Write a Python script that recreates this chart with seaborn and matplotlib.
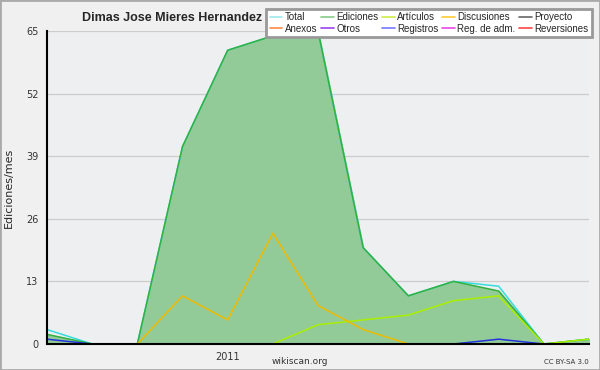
import numpy as np
import pandas as pd
import matplotlib
matplotlib.use('Agg')
import matplotlib.pyplot as plt
from matplotlib.lines import Line2D
from matplotlib.patches import Rectangle
import seaborn as sns

# ── Data (monthly edits, Sep 2010 .. Sep 2011) ───────────────────────────────
months = ['2010-09', '2010-10', '2010-11', '2010-12', '2011-01', '2011-02',
          '2011-03', '2011-04', '2011-05', '2011-06', '2011-07', '2011-08',
          '2011-09']
tick_labels = ['', '', '', '', '2011', '', '', '', '', '', '', '', '']

total       = [3, 0, 0, 41, 61, 64, 65, 20, 10, 13, 12, 0, 1]
ediciones   = [2, 0, 0, 41, 61, 64, 65, 20, 10, 13, 11, 0, 1]
articulos   = [np.nan, np.nan, np.nan, np.nan, np.nan, 0, 4, 5, 6, 9, 10, 0, 1]
discusiones = [np.nan, np.nan, 0, 10, 5, 23, 8, 3, 0, np.nan, np.nan, np.nan, np.nan]
registros   = [1, 0, np.nan, np.nan, np.nan, np.nan, np.nan, np.nan, np.nan, 0, 1, 0, np.nan]

legend_names = ['Total', 'Anexos', 'Ediciones', 'Otros', 'Artículos', 'Registros',
                'Discusiones', 'Reg. de adm.', 'Proyecto', 'Reversiones']
legend_colors = ['#a0e8ec', '#ff8844', '#88cc88', '#9944ee', '#ccee44', '#7777ff',
                 '#ffcc33', '#ee44ee', '#666666', '#ff4444']

df = pd.DataFrame({
    'x': np.arange(len(months)),
    'total': total,
    'ediciones': ediciones,
    'articulos': articulos,
    'discusiones': discusiones,
    'registros': registros,
})

# ── Figure ───────────────────────────────────────────────────────────────────
sns.set_style('white')
plt.rcParams['font.family'] = ['DejaVu Sans']

fig = plt.figure(figsize=(6, 3.7), dpi=100, facecolor='#f0f0f0')
ax = fig.add_axes([47 / 600, 1 - 344 / 370, 542 / 600, 313 / 370])
ax.set_facecolor('#eeeff1')

ax.fill_between(df['x'], df['ediciones'], color='#93cb98', zorder=1)

line_specs = [
    ('total', '#33dddd'),
    ('ediciones', '#33b040'),
    ('articulos', '#aaee00'),
    ('discusiones', '#eebb00'),
    ('registros', '#2233dd'),
]
for col, color in line_specs:
    sns.lineplot(data=df, x='x', y=col, color=color, linewidth=1.1, ax=ax, zorder=3)

ax.set_xlim(0, len(months) - 1)
ax.set_ylim(0, 65)
ax.set_yticks([0, 13, 26, 39, 52, 65])
ax.set_yticks(np.arange(0, 65.1, 2.6), minor=True)
ax.set_xticks(df['x'])
ax.set_xticklabels(tick_labels)
ax.yaxis.grid(True, color='#cccccc', linewidth=0.9, zorder=0)
ax.set_axisbelow(True)

for side in ['top', 'right']:
    ax.spines[side].set_visible(False)
for side in ['left', 'bottom']:
    ax.spines[side].set_color('black')
    ax.spines[side].set_linewidth(1.5)
    ax.spines[side].set_zorder(5)

ax.tick_params(axis='both', which='major', direction='out', length=5, width=1,
               labelsize=7, colors='black', labelcolor='#333333', pad=1)
ax.tick_params(axis='y', which='minor', direction='out', length=3, width=1)
ax.set_xlabel('')
ax.set_ylabel('Ediciones/mes', fontsize=8)
ax.yaxis.set_label_coords(-0.062, 0.5)

fig.text(172 / 600, 1 - 18 / 370, 'Dimas Jose Mieres Hernandez', ha='center',
         va='center', fontsize=9, fontweight='bold', family='Liberation Sans')
fig.text(300 / 600, 1 - 361 / 370, 'wikiscan.org', ha='center', va='center',
         fontsize=6.5, color='#333333')
fig.text(589 / 600, 1 - 362 / 370, 'CC BY-SA 3.0', ha='right', va='center',
         fontsize=5, color='#333333')

handles = [Line2D([], [], color=c, linewidth=1.2) for c in legend_colors]
leg = fig.legend(handles, legend_names, ncol=5, loc='upper right',
                 bbox_to_anchor=(592 / 600, 1 - 9 / 370),
                 prop={'family': 'Liberation Sans', 'size': 7},
                 frameon=True, fancybox=False, framealpha=1,
                 handlelength=1.3, handletextpad=0.25, columnspacing=0.4,
                 labelspacing=0.15, borderpad=0.35, borderaxespad=0)
leg.get_frame().set_edgecolor('#999999')
leg.get_frame().set_linewidth(2)
leg.set_zorder(10)

fig.patches.append(Rectangle((0, 0), 1, 1, transform=fig.transFigure,
                             fill=False, edgecolor='#aaaaaa', linewidth=2))

fig.savefig('out.png', dpi=100, facecolor=fig.get_facecolor())
